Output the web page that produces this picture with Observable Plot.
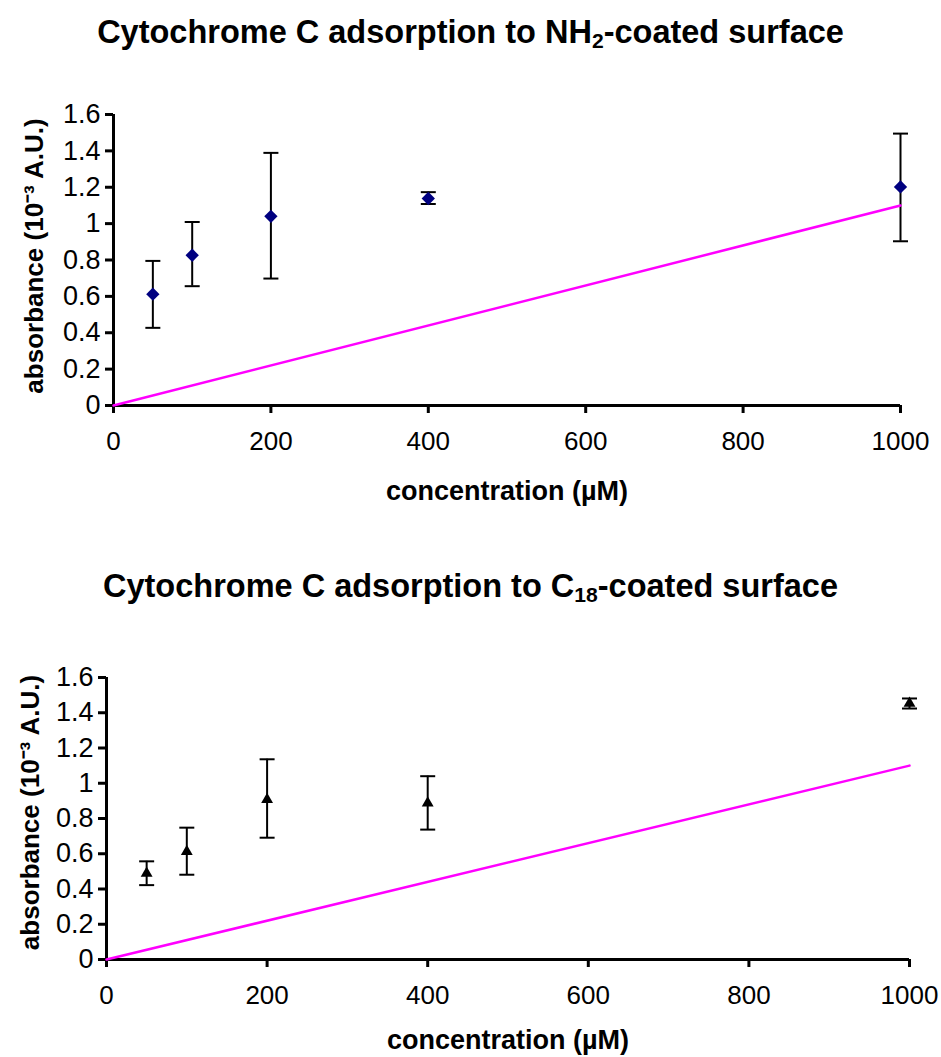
<!DOCTYPE html>
<html><head><meta charset="utf-8">
<script src="https://cdn.jsdelivr.net/npm/d3@7"></script>
<script src="https://cdn.jsdelivr.net/npm/@observablehq/plot@0.6"></script>
<style>
body{margin:0;background:#fff;font-family:"Liberation Sans",Arial,sans-serif;}
#root{width:941px;}
.title{font-weight:bold;font-size:32.5px;text-align:center;color:#000;white-space:nowrap;}
.title sub{font-size:0.65em;vertical-align:-0.25em;line-height:0}
svg{display:block}
</style></head><body><div id="root"></div>
<script>
const concentrations = [50, 100, 200, 400, 1000];
const nh2Absorbance = [0.612, 0.826, 1.040, 1.138, 1.202];
const nh2Upper = [0.795, 1.009, 1.389, 1.173, 1.495];
const nh2Lower = [0.427, 0.656, 0.698, 1.108, 0.903];
const c18Absorbance = [0.489, 0.612, 0.907, 0.888, 1.453];
const c18Upper = [0.557, 0.748, 1.136, 1.040, 1.481];
const c18Lower = [0.422, 0.481, 0.691, 0.737, 1.424];
const refLineX = [0, 1000];
const refLineY = [0, 1.1];
const xTicks = [0, 200, 400, 600, 800, 1000];
const xTickLabels = ["0", "200", "400", "600", "800", "1000"];
const yTicks = [0, 0.2, 0.4, 0.6, 0.8, 1, 1.2, 1.4, 1.6];
const yTickLabels = ["0", "0.2", "0.4", "0.6", "0.8", "1", "1.2", "1.4", "1.6"];
const xLabel = "concentration (µM)";
const yLabel = "absorbance (10⁻³ A.U.)";

const FONT = '"Liberation Sans", Arial, sans-serif';
const cap = {draw(ctx, size) { const w = Math.sqrt(size / Math.PI); ctx.moveTo(-w, 0); ctx.lineTo(w, 0); }};

function chart(o) {
  const data = concentrations.map((c, i) => ({c, v: o.values[i], hi: o.upper[i], lo: o.lower[i]}));
  const line = refLineX.map((x, i) => ({x, y: refLineY[i]}));
  return Plot.plot({
    width: 941, height: o.height,
    marginTop: o.marginTop, marginBottom: o.marginBottom, marginLeft: o.marginLeft, marginRight: o.marginRight,
    style: {fontFamily: FONT, color: "#000", background: "#fff", overflow: "visible"},
    x: {domain: [0, 1000]},
    y: {domain: [0, 1.6]},
    marks: [
      Plot.axisX({ticks: xTicks, tickFormat: d => xTickLabels[xTicks.indexOf(d)], tickSize: 8, strokeWidth: 3, tickPadding: 18, fontSize: 26, label: null}),
      Plot.axisY({ticks: yTicks, tickFormat: d => yTickLabels[yTicks.indexOf(d)], tickSize: 8, strokeWidth: 3, tickPadding: 5, fontSize: 27, label: null}),
      Plot.ruleY([0], {strokeWidth: 3}),
      Plot.ruleX([0], {strokeWidth: 3}),
      Plot.ruleX(data, {x: "c", y1: "lo", y2: "hi", strokeWidth: 2}),
      Plot.dot(data, {x: "c", y: "hi", symbol: cap, r: 7.5, stroke: "#000", strokeWidth: 2, fill: "none"}),
      Plot.dot(data, {x: "c", y: "lo", symbol: cap, r: 7.5, stroke: "#000", strokeWidth: 2, fill: "none"}),
      Plot.line(line, {x: "x", y: "y", stroke: "#ff00ff", strokeWidth: 2.5}),
      Plot.dot(data, {x: "c", y: "v", symbol: o.symbol, r: o.r, fill: o.color, stroke: "none"}),
      Plot.text([yLabel], {text: d => d, frameAnchor: "left", textAnchor: "middle", rotate: -90, dx: o.yLabelDx, dy: o.yLabelDy, fontSize: 26, fontWeight: "bold"}),
      Plot.text([xLabel], {text: d => d, frameAnchor: "bottom", dy: o.xLabelDy, fontSize: 27, fontWeight: "bold"})
    ]
  });
}

const root = document.getElementById("root");
const t1 = document.createElement("div");
t1.className = "title";
t1.style.height = "62px"; t1.style.lineHeight = "64px";
t1.innerHTML = "Cytochrome C adsorption to NH<sub>2</sub>-coated surface";
root.appendChild(t1);
root.appendChild(chart({values: nh2Absorbance, upper: nh2Upper, lower: nh2Lower, symbol: "diamond2", r: 6, color: "#000080",
  height: 500, marginTop: 52, marginBottom: 157, marginLeft: 113, marginRight: 41, yLabelDx: -79, yLabelDy: -4, xLabelDy: 94}));
const t2 = document.createElement("div");
t2.className = "title";
t2.style.height = "46px"; t2.style.lineHeight = "48px";
t2.innerHTML = "Cytochrome C adsorption to C<sub>18</sub>-coated surface";
root.appendChild(t2);
root.appendChild(chart({values: c18Absorbance, upper: c18Upper, lower: c18Lower, symbol: "triangle", r: 4.4, color: "#000",
  height: 449, marginTop: 69, marginBottom: 98, marginLeft: 106, marginRight: 32, yLabelDx: -76, yLabelDy: -6, xLabelDy: 89}));
</script></body></html>
